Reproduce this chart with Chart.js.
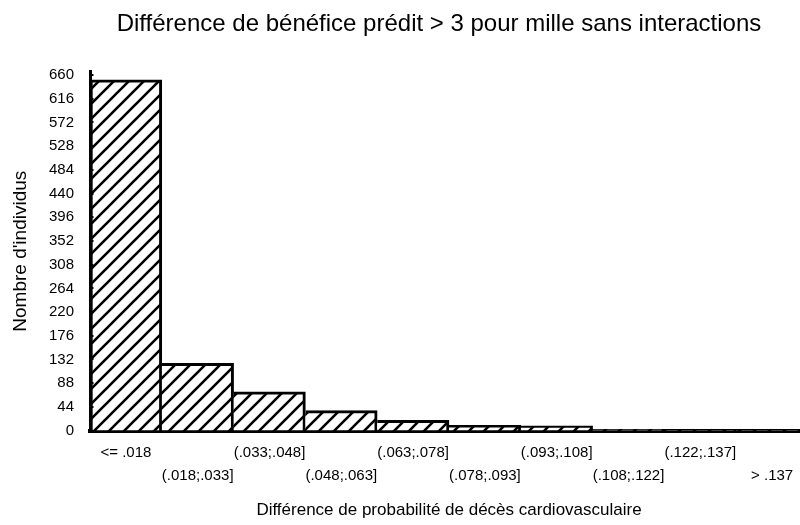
<!DOCTYPE html>
<html><head><meta charset="utf-8">
<script src="https://cdn.jsdelivr.net/npm/chart.js@4.4.1/dist/chart.umd.min.js"></script>
<style>html,body{margin:0;padding:0;overflow:hidden;background:#fff}#wrap{width:810px;height:525px;position:relative}</style>
</head><body><div id="wrap"><canvas id="c"></canvas></div>
<script>
const categories = ['<= .018','(.018;.033]','(.033;.048]','(.048;.063]','(.063;.078]','(.078;.093]','(.093;.108]','(.108;.122]','(.122;.137]','> .137'];
const counts = [651, 125, 72, 37, 19, 10, 9, 2, 1, 1];
const yTickValues = [0,44,88,132,176,220,264,308,352,396,440,484,528,572,616,660];
const yMax = 666;
const F = "'Liberation Sans', Arial, sans-serif";

function hatch(){
  const p = 15;
  const c = document.createElement('canvas');
  c.width = p; c.height = p;
  const g = c.getContext('2d');
  g.fillStyle = '#fff'; g.fillRect(0,0,p,p);
  g.strokeStyle = '#000'; g.lineWidth = 2.6;
  g.beginPath();
  [-p,0,p].forEach(o => { g.moveTo(o-2, p+2); g.lineTo(o+p+2, -2); });
  g.stroke();
  return g.createPattern(c, 'repeat');
}

const shiftTitle = { id:'shiftTitle', afterLayout(chart){ const t = chart.titleBlock; if (t) { t.left = 68; t.right = chart.width; } } };
const innerTicks = { id:'innerTicks', afterDraw(chart){
  const y = chart.scales.y, ctx = chart.ctx;
  ctx.save(); ctx.strokeStyle = '#000'; ctx.lineWidth = 2;
  yTickValues.forEach(v => { const py = Math.round(y.getPixelForValue(v)); ctx.beginPath(); ctx.moveTo(y.right, py); ctx.lineTo(y.right + 3.5, py); ctx.stroke(); });
  ctx.restore();
}};

new Chart(document.getElementById('c'), {
  type: 'bar',
  data: { labels: categories, datasets: [{
    data: counts,
    backgroundColor: hatch(),
    borderColor: '#000',
    borderWidth: c => ({ top: 3, right: 3, bottom: 0, left: c.dataIndex === 0 ? 3 : 0 }),
    borderSkipped: false,
    barPercentage: 1, categoryPercentage: 1
  }]},
  options: {
    responsive: true, maintainAspectRatio: false, animation: false,
    layout: { padding: { left: 0, right: 2, top: 0, bottom: 0 } },
    plugins: {
      legend: { display: false }, tooltip: { enabled: false },
      title: { display: true, text: 'Différence de bénéfice prédit > 3 pour mille sans interactions', color: '#000',
        font: { family: F, size: 24, weight: 'normal' }, padding: { top: 10, bottom: 33 } }
    },
    scales: {
      x: { z: 1, grid: { display: false, drawTicks: false }, border: { display: true, color: '#000', width: 4 },
        ticks: { autoSkip: false, maxRotation: 0, minRotation: 0, padding: 11, color: '#000',
          font: { family: F, size: 15, lineHeight: '23px' },
          callback: (v, i) => i % 2 === 0 ? [categories[i], ''] : ['', categories[i]] },
        title: { display: true, text: 'Différence de probabilité de décès cardiovasculaire', color: '#000',
          font: { family: F, size: 17 }, padding: { top: 2, bottom: 4 } } },
      y: { z: 1, min: 0, max: yMax,
        afterBuildTicks: s => { s.ticks = yTickValues.map(v => ({ value: v })); },
        afterFit: s => { s.width = 90; },
        grid: { display: false, drawTicks: false }, border: { display: true, color: '#000', width: 3 },
        ticks: { padding: 16, color: '#000', autoSkip: false, font: { family: F, size: 15 } },
        title: { display: true, text: "Nombre d'individus", color: '#000', font: { family: F, size: 19 }, padding: { top: 9, bottom: 0 } } }
    }
  },
  plugins: [shiftTitle, innerTicks]
});
</script></body></html>
